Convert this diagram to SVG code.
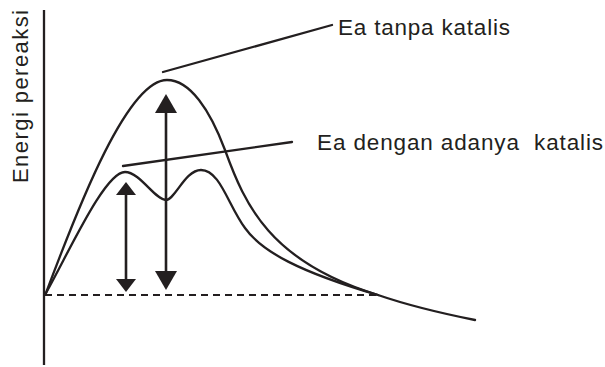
<svg xmlns="http://www.w3.org/2000/svg" width="605" height="367" viewBox="0 0 605 367">
<style>
.ln{fill:none;stroke:#231f20;stroke-width:2.3;stroke-linecap:round;stroke-linejoin:round}
.ax{fill:none;stroke:#231f20;stroke-width:2.3}
.dash{fill:none;stroke:#231f20;stroke-width:2.2;stroke-dasharray:7,5}
.arr{fill:none;stroke:#231f20;stroke-width:2.6}
.txt{font-family:"Liberation Sans",Arial,sans-serif;font-size:22.5px;fill:#231f20}
</style>
<defs>
<marker id="hs" markerUnits="userSpaceOnUse" orient="auto-start-reverse" refX="8" refY="0" markerWidth="30" markerHeight="30" viewBox="-15 -15 30 30" overflow="visible">
<path d="M0,-10 L13,0 L0,10 Z" fill="#231f20"/>
</marker>
<marker id="hb" markerUnits="userSpaceOnUse" orient="auto-start-reverse" refX="14" refY="0" markerWidth="40" markerHeight="40" viewBox="-20 -20 40 40" overflow="visible">
<path d="M0,-11 L19,0 L0,11 Z" fill="#231f20"/>
</marker>
</defs>
<g id="axes">
<line class="ax" x1="44" y1="10" x2="44" y2="365"/>
<line class="dash" x1="45" y1="295" x2="378" y2="295"/>
</g>
<g id="curve-uncatalyzed">
<path class="ln" d="M46,293 C80,202 128,80 167,80 C190,80 210,110 225,150 C245,205 270,262 378,295 C410,306 440,313 475,320"/>
</g>
<g id="curve-catalyzed">
<path class="ln" d="M46,293 C70,250 105,172 125,172 C140,172 155,200 166,200 C175,200 185,170 201,170 C220,170 228,205 245,228 C262,252 300,272 378,295"/>
</g>
<g id="connectors">
<line class="arr" x1="126" y1="187" x2="126" y2="287" marker-start="url(#hs)" marker-end="url(#hs)"/>
<line class="arr" x1="166" y1="99" x2="166" y2="285" marker-start="url(#hb)" marker-end="url(#hb)"/>
<line class="ln" x1="163" y1="72" x2="332" y2="25"/>
<line class="ln" x1="123" y1="166" x2="292" y2="142"/>
</g>
<g id="label-ea-tanpa">
<text class="txt" x="338" y="35" textLength="172" lengthAdjust="spacing">Ea tanpa katalis</text>
</g>
<g id="label-ea-dengan">
<text class="txt" x="317" y="150" textLength="286" lengthAdjust="spacing" xml:space="preserve">Ea dengan adanya  katalis</text>
</g>
<g id="label-y">
<text class="txt" style="font-size:22px" transform="translate(28,183) rotate(-90)" x="0" y="0" textLength="173" lengthAdjust="spacing">Energi pereaksi</text>
</g>
</svg>
